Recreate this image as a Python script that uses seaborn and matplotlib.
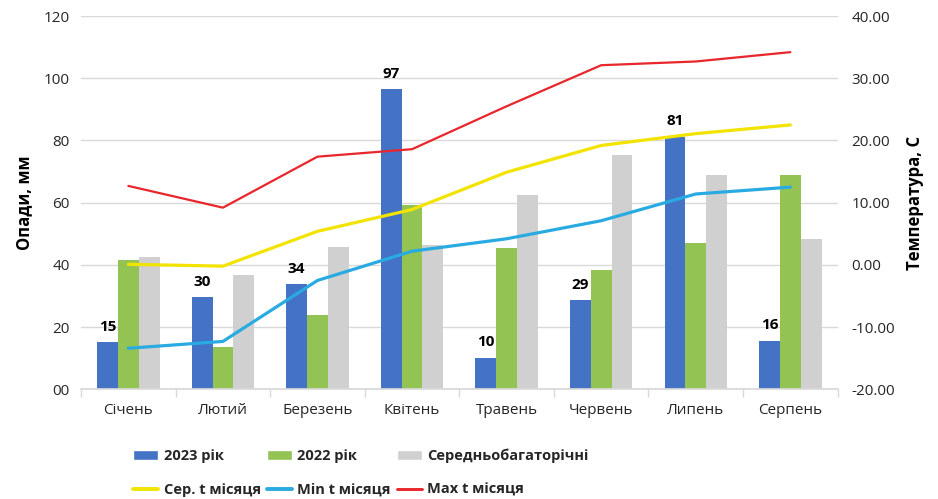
import numpy as np
import pandas as pd
import seaborn as sns
import matplotlib
matplotlib.use("Agg")
import matplotlib.pyplot as plt
from matplotlib.ticker import FuncFormatter, FixedLocator
from matplotlib.patches import Patch
from matplotlib.lines import Line2D

# дані
months = ['Січень', 'Лютий', 'Березень', 'Квітень', 'Травень', 'Червень', 'Липень', 'Серпень']
rain_2023 = [15.2, 29.7, 33.8, 96.6, 10.2, 28.7, 81.2, 15.6]
rain_2022 = [41.5, 13.5, 24.0, 59.3, 45.3, 38.3, 47.2, 68.9]
rain_avg = [42.5, 36.8, 45.6, 46.3, 62.4, 75.3, 68.9, 48.3]
t_mean = [0.1, -0.2, 5.4, 8.9, 14.9, 19.2, 21.1, 22.5]
t_min = [-13.4, -12.3, -2.5, 2.2, 4.2, 7.1, 11.4, 12.5]
t_max = [12.7, 9.2, 17.4, 18.6, 25.5, 32.1, 32.7, 34.2]

bar_names = ['2023 рік', '2022 рік', 'Середньобагаторічні']
bar_colors = ['#4472C4', '#92C353', '#D0D0D0']
line_names = ['Сер. t місяця', 'Min t місяця', 'Max t місяця']
line_colors = ['#F2E400', '#29ABE2', '#E8262B']
line_widths = [2.3, 2.3, 1.6]

sns.set_theme(style="white")
plt.rcParams['font.family'] = ['Open Sans', 'DejaVu Sans']
txt = '#262626'

df = pd.DataFrame({
    'month': months * 3,
    'series': [n for n in bar_names for _ in months],
    'value': rain_2023 + rain_2022 + rain_avg,
})

fig = plt.figure(figsize=(9.38, 4.99), dpi=100)
ax = fig.add_axes([0.0864, 0.2198, 0.8066, 0.748])

sns.barplot(data=df, x='month', y='value', hue='series', palette=bar_colors,
            saturation=1, width=0.66, gap=0, linewidth=0, ax=ax, legend=False)

# підписи значень для 2023
ax.bar_label(ax.containers[0], labels=[f"{v:.0f}" for v in rain_2023],
             fontweight='bold', fontsize=11, padding=6, color='black')

ax.set_ylim(0, 120)
ax.set_xlim(-0.5, 7.5)
ax.set_yticks(np.arange(0, 121, 20))
ax.yaxis.set_major_formatter(FuncFormatter(lambda v, p: f"{v:02.0f}"))
ax.grid(axis='y', color='#D9D9D9', lw=1)
ax.set_axisbelow(True)
for s in ['top', 'right', 'left']:
    ax.spines[s].set_visible(False)
ax.spines['bottom'].set_color('#D9D9D9')
ax.xaxis.set_minor_locator(FixedLocator(np.arange(-0.5, 8, 1)))
ax.tick_params(axis='x', which='minor', length=6, color='#D9D9D9', bottom=True)
ax.tick_params(axis='x', which='major', length=0, pad=10, labelsize=11, labelcolor=txt)
ax.tick_params(axis='y', length=0, labelsize=11, labelcolor=txt, pad=8)
ax.set_xlabel('')
ax.set_ylabel('Опади, мм', fontsize=12, fontweight='bold', color='black', labelpad=8)

# температура на другій осі
ax2 = ax.twinx()
x = np.arange(len(months))
for vals, c, lw in zip([t_mean, t_min, t_max], line_colors, line_widths):
    sns.lineplot(x=x, y=vals, color=c, lw=lw, ax=ax2)
ax2.set_ylim(-20, 40)
ax2.set_yticks(np.arange(-20, 41, 10))
ax2.yaxis.set_major_formatter(FuncFormatter(lambda v, p: f"{v:.2f}"))
for s in ['top', 'right', 'left', 'bottom']:
    ax2.spines[s].set_visible(False)
ax2.tick_params(axis='y', length=0, labelsize=11, labelcolor=txt, pad=10)
ax2.set_ylabel('Температура, C', fontsize=12, fontweight='bold', color='black', labelpad=8)
ax2.grid(False)
ax2.set_xlim(-0.5, 7.5)

# легенда
handles = []
for i in range(3):
    handles.append(Patch(facecolor=bar_colors[i], label=bar_names[i]))
    handles.append(Line2D([], [], color=line_colors[i], lw=line_widths[i] + 0.5, label=line_names[i]))
leg = fig.legend(handles=handles, ncol=3, loc='lower left', bbox_to_anchor=(0.128, -0.022),
                 frameon=False, prop={'weight': 'bold', 'size': 10.5},
                 handlelength=1.7, handleheight=0.7, handletextpad=0.4,
                 columnspacing=0.4, labelspacing=1.35)

fig.savefig('out.png', dpi=100)
